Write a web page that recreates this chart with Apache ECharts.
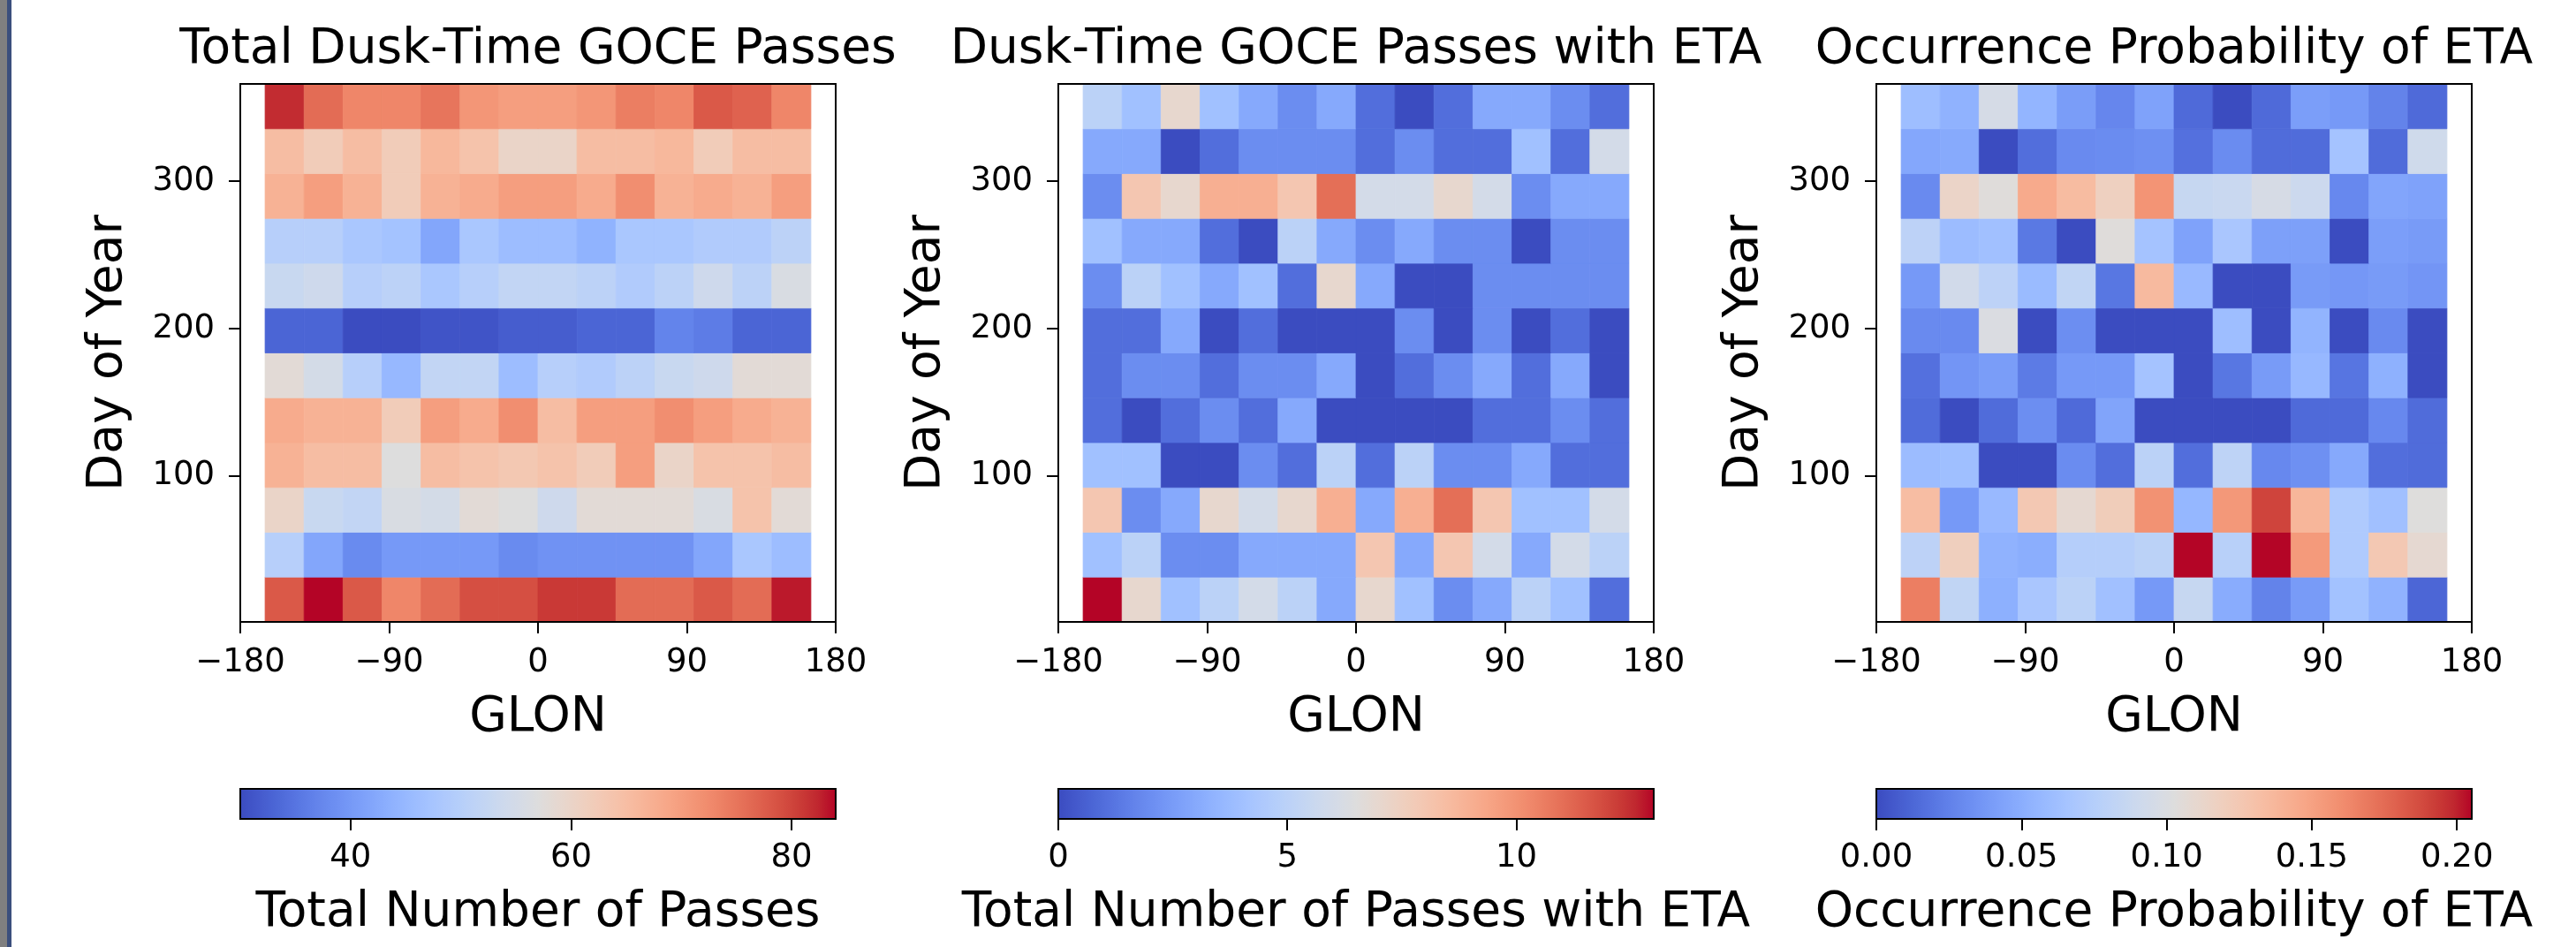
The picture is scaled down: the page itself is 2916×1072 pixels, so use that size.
<!DOCTYPE html>
<html><head><meta charset="utf-8">
<script src="https://cdn.jsdelivr.net/npm/echarts@6/dist/echarts.min.js"></script>
<style>html,body{margin:0;padding:0;background:#fff}#c{width:2916px;height:1072px}</style>
</head><body><div id="c"></div><script>
// ---------- data ----------
const lonEdges = [-165, -141.43, -117.86, -94.29, -70.71, -47.14, -23.57, 0, 23.57, 47.14, 70.71, 94.29, 117.86, 141.43, 165];
const dayEdges = [1, 31.42, 61.83, 92.25, 122.67, 153.08, 183.5, 213.92, 244.33, 274.75, 305.17, 335.58, 366];
const xTicks = [-180, -90, 0, 90, 180];
const yTicks = [100, 200, 300];

// rows: day bins from bottom (day 1) to top; columns: longitude bins west -> east
const totalPasses = [
  [78,84,78,73,76,79,79,81,81,76,76,78,76,83],
  [50,42,38,40,40,40,38,39,39,39,39,42,48,46],
  [60,53,52,56,55,58,57,54,58,58,58,56,64,58],
  [67,65,65,57,65,64,63,64,62,70,60,64,64,65],
  [68,67,67,62,70,68,72,65,70,70,72,70,68,67],
  [58,55,50,45,52,52,46,50,49,51,53,54,58,58],
  [33,33,30,30,31,31,32,32,33,33,37,36,33,33],
  [53,54,50,51,48,50,52,52,51,49,51,54,51,56],
  [50,50,48,47,42,48,46,46,44,48,48,49,49,51],
  [67,70,67,62,67,68,70,70,68,72,67,68,67,70],
  [65,62,65,62,66,64,60,60,65,65,66,62,65,65],
  [82,76,73,73,75,71,70,70,71,74,73,78,77,73]
];
const etaPasses = [
  [13,7,4,5,6,5,3,7,4,2,3,5,4,1],
  [4,5,2,2,3,3,3,8,3,8,6,3,6,5],
  [8,2,3,7,6,7,9,3,9,11,8,4,4,6],
  [4,4,0,0,2,1,5,1,5,2,2,3,1,1],
  [1,0,1,2,1,3,0,0,0,0,1,1,2,1],
  [1,2,2,1,2,2,3,0,1,2,3,1,3,0],
  [1,1,3,0,1,0,0,0,2,0,2,0,1,0],
  [2,5,4,3,4,1,7,3,0,0,2,2,2,2],
  [4,3,3,1,0,5,3,2,3,2,2,0,2,2],
  [2,8,7,9,9,8,11,6,6,7,6,2,3,3],
  [3,3,0,1,2,2,2,1,2,1,1,4,1,6],
  [5,4,7,4,3,2,3,1,0,1,3,3,2,1]
];
const etaProbability = [
  [0.167,0.083,0.051,0.068,0.079,0.063,0.038,0.086,0.049,0.026,0.039,0.064,0.053,0.012],
  [0.080,0.119,0.053,0.050,0.075,0.075,0.079,0.205,0.077,0.205,0.154,0.071,0.125,0.109],
  [0.133,0.038,0.058,0.125,0.109,0.121,0.158,0.056,0.155,0.190,0.138,0.071,0.063,0.103],
  [0.060,0.062,0,0,0.031,0.016,0.079,0.016,0.081,0.029,0.033,0.047,0.016,0.015],
  [0.015,0,0.015,0.032,0.014,0.044,0,0,0,0,0.014,0.014,0.029,0.015],
  [0.017,0.036,0.040,0.022,0.038,0.038,0.065,0,0.020,0.039,0.057,0.019,0.052,0],
  [0.030,0.030,0.100,0,0.032,0,0,0,0.061,0,0.054,0,0.030,0],
  [0.038,0.093,0.080,0.059,0.083,0.020,0.135,0.058,0,0,0.039,0.037,0.039,0.036],
  [0.080,0.060,0.063,0.021,0,0.104,0.065,0.043,0.068,0.042,0.042,0,0.041,0.039],
  [0.030,0.114,0.104,0.145,0.134,0.118,0.157,0.086,0.088,0.097,0.090,0.029,0.045,0.043],
  [0.046,0.048,0,0.016,0.030,0.031,0.033,0.017,0.031,0.015,0.015,0.065,0.015,0.092],
  [0.061,0.053,0.096,0.055,0.040,0.028,0.043,0.014,0,0.014,0.041,0.038,0.026,0.014]
];
const panelTitles = ['Total Dusk-Time GOCE Passes', 'Dusk-Time GOCE Passes with ETA', 'Occurrence Probability of ETA'];
const colorbarLabels = ['Total Number of Passes', 'Total Number of Passes with ETA', 'Occurrence Probability of ETA'];
const colorbarRanges = [[30, 84], [0, 13], [0, 0.2051]];
const colorbarTicks = [[40, 60, 80], [0, 5, 10], [0, 0.05, 0.10, 0.15, 0.20]];
const colorbarDecimals = [0, 0, 2];
const xAxisName = 'GLON';
const yAxisName = 'Day of Year';

// ---------- coolwarm colormap (matplotlib segment data) ----------
const cwR = [0.2298057,0.26623388,0.30386891,0.342804478,0.38301334,0.424369608,0.46666708,0.509635204,0.552953156,0.596262162,0.639176211,0.681291281,0.722193294,0.761464949,0.798691636,0.833466556,0.865395197,0.897787179,0.924127593,0.944468518,0.958852946,0.96732803,0.969954137,0.966811177,0.958003065,0.943660866,0.923944917,0.89904617,0.869186849,0.834620542,0.795631745,0.752534934,0.705673158];
const cwG = [0.298717966,0.353094838,0.406535296,0.458757618,0.50941904,0.558148092,0.604562568,0.648280772,0.688929332,0.726149107,0.759599947,0.788964712,0.813952739,0.834302879,0.849786142,0.860207984,0.86541021,0.848937047,0.827384882,0.800927443,0.769767752,0.734132809,0.694266682,0.650421156,0.602842431,0.551750968,0.49730856,0.439559467,0.378313092,0.312874446,0.24128379,0.157246067,0.01555616];
const cwB = [0.753683153,0.801466763,0.84495867,0.883725899,0.917387822,0.945619588,0.968154911,0.98478814,0.995375608,0.999836203,0.998151185,0.990363227,0.976574709,0.956945269,0.931688648,0.901068838,0.865395561,0.820880546,0.774508472,0.726736146,0.678007945,0.628751763,0.579375448,0.530263762,0.481775914,0.434243684,0.387970225,0.343229596,0.300267182,0.259301199,0.220525627,0.184115123,0.150232812];
const coolwarm = cwR.map((r, i) => 'rgb(' + Math.round(r * 255) + ',' + Math.round(cwG[i] * 255) + ',' + Math.round(cwB[i] * 255) + ')');

// ---------- layout ----------
const FONT = 'DejaVu Sans';
const BIG = 55, SMALL = 37;
const panelLeft = [272, 1198, 2124];
const panelW = 674, plotTop = 95, plotH = 609;
const cbTop = 893, cbH = 34;
const matrices = [totalPasses, etaPasses, etaProbability];
const minus = v => String(v).replace('-', '\u2212');

function toItems(mat) {
  const out = [];
  mat.forEach((row, r) => row.forEach((v, c) => {
    out.push([(lonEdges[c] + lonEdges[c + 1]) / 2, (dayEdges[r] + dayEdges[r + 1]) / 2, v, c, r]);
  }));
  return out;
}
function renderCell(params, api) {
  const c = api.value(3), r = api.value(4);
  const p0 = api.coord([lonEdges[c], dayEdges[r + 1]]);
  const p1 = api.coord([lonEdges[c + 1], dayEdges[r]]);
  const col = api.visual('color');
  return { type: 'rect', shape: { x: p0[0], y: p0[1], width: p1[0] - p0[0], height: p1[1] - p0[1] },
           style: { fill: col, stroke: col, lineWidth: 0.8 } };
}

const grid = [], xAxis = [], yAxis = [], series = [], visualMap = [], title = [];
for (let i = 0; i < 3; i++) {
  grid.push({ left: panelLeft[i], top: plotTop, width: panelW, height: plotH, show: true,
              borderColor: '#000', borderWidth: 2, backgroundColor: 'transparent', z: 5 });
  xAxis.push({ gridIndex: i, type: 'value', min: -180, max: 180, interval: 90, z: 6,
    axisLine: { show: true, onZero: false, lineStyle: { color: '#000', width: 2 } },
    axisTick: { show: true, length: 13, lineStyle: { color: '#000', width: 2 }, customValues: xTicks },
    axisLabel: { customValues: xTicks, formatter: minus, fontSize: SMALL, fontFamily: FONT, color: '#000', margin: 28 },
    splitLine: { show: false },
    name: xAxisName, nameLocation: 'middle', nameGap: 81,
    nameTextStyle: { fontSize: BIG, fontFamily: FONT, color: '#000' } });
  yAxis.push({ gridIndex: i, type: 'value', min: 1, max: 366, z: 6,
    axisLine: { show: true, onZero: false, lineStyle: { color: '#000', width: 2 } },
    axisTick: { show: true, length: 13, lineStyle: { color: '#000', width: 2 }, customValues: yTicks },
    axisLabel: { customValues: yTicks, fontSize: SMALL, fontFamily: FONT, color: '#000', margin: 29 },
    splitLine: { show: false },
    name: yAxisName, nameLocation: 'middle', nameGap: 122,
    nameTextStyle: { fontSize: BIG, fontFamily: FONT, color: '#000' } });
  series.push({ type: 'custom', xAxisIndex: i, yAxisIndex: i, renderItem: renderCell,
    data: toItems(matrices[i]), encode: { x: 0, y: 1 }, silent: true });
  title.push({ text: panelTitles[i], left: panelLeft[i] + panelW / 2, top: 29, textAlign: 'center', padding: 0,
    textStyle: { fontSize: BIG, fontWeight: 'normal', fontFamily: FONT, color: '#000' } });
}
for (let i = 0; i < 3; i++) {
  const dec = colorbarDecimals[i];
  grid.push({ left: panelLeft[i], top: cbTop, width: panelW, height: cbH, show: true,
              borderColor: '#000', borderWidth: 2, backgroundColor: 'transparent', z: 10 });
  xAxis.push({ gridIndex: 3 + i, type: 'value', min: colorbarRanges[i][0], max: colorbarRanges[i][1], position: 'bottom', z: 10,
    axisLine: { show: false },
    axisTick: { show: true, length: 13, lineStyle: { color: '#000', width: 2 }, customValues: colorbarTicks[i] },
    axisLabel: { customValues: colorbarTicks[i], formatter: v => Number(v).toFixed(dec), fontSize: SMALL, fontFamily: FONT, color: '#000', margin: 26 },
    splitLine: { show: false },
    name: colorbarLabels[i], nameLocation: 'middle', nameGap: 79,
    nameTextStyle: { fontSize: BIG, fontFamily: FONT, color: '#000' } });
  yAxis.push({ gridIndex: 3 + i, type: 'value', show: false, min: 0, max: 1 });
  visualMap.push({ type: 'continuous', seriesIndex: i, dimension: 2,
    min: colorbarRanges[i][0], max: colorbarRanges[i][1], inRange: { color: coolwarm },
    orient: 'horizontal', left: panelLeft[i], top: cbTop, itemWidth: cbH, itemHeight: panelW,
    calculable: false, hoverLink: false, padding: 0, z: 4 });
}

const chart = echarts.init(document.getElementById('c'), null, { renderer: 'canvas' });
chart.setOption({
  backgroundColor: '#fff', animation: false,
  textStyle: { fontFamily: FONT },
  title, grid, xAxis, yAxis, series, visualMap,
  graphic: [
    { type: 'rect', shape: { x: 0, y: 0, width: 8, height: 1072 }, style: { fill: '#808080' }, silent: true },
    { type: 'rect', shape: { x: 8, y: 0, width: 5, height: 1072 }, style: { fill: '#3b4f7d' }, silent: true }
  ]
});
</script></body></html>
